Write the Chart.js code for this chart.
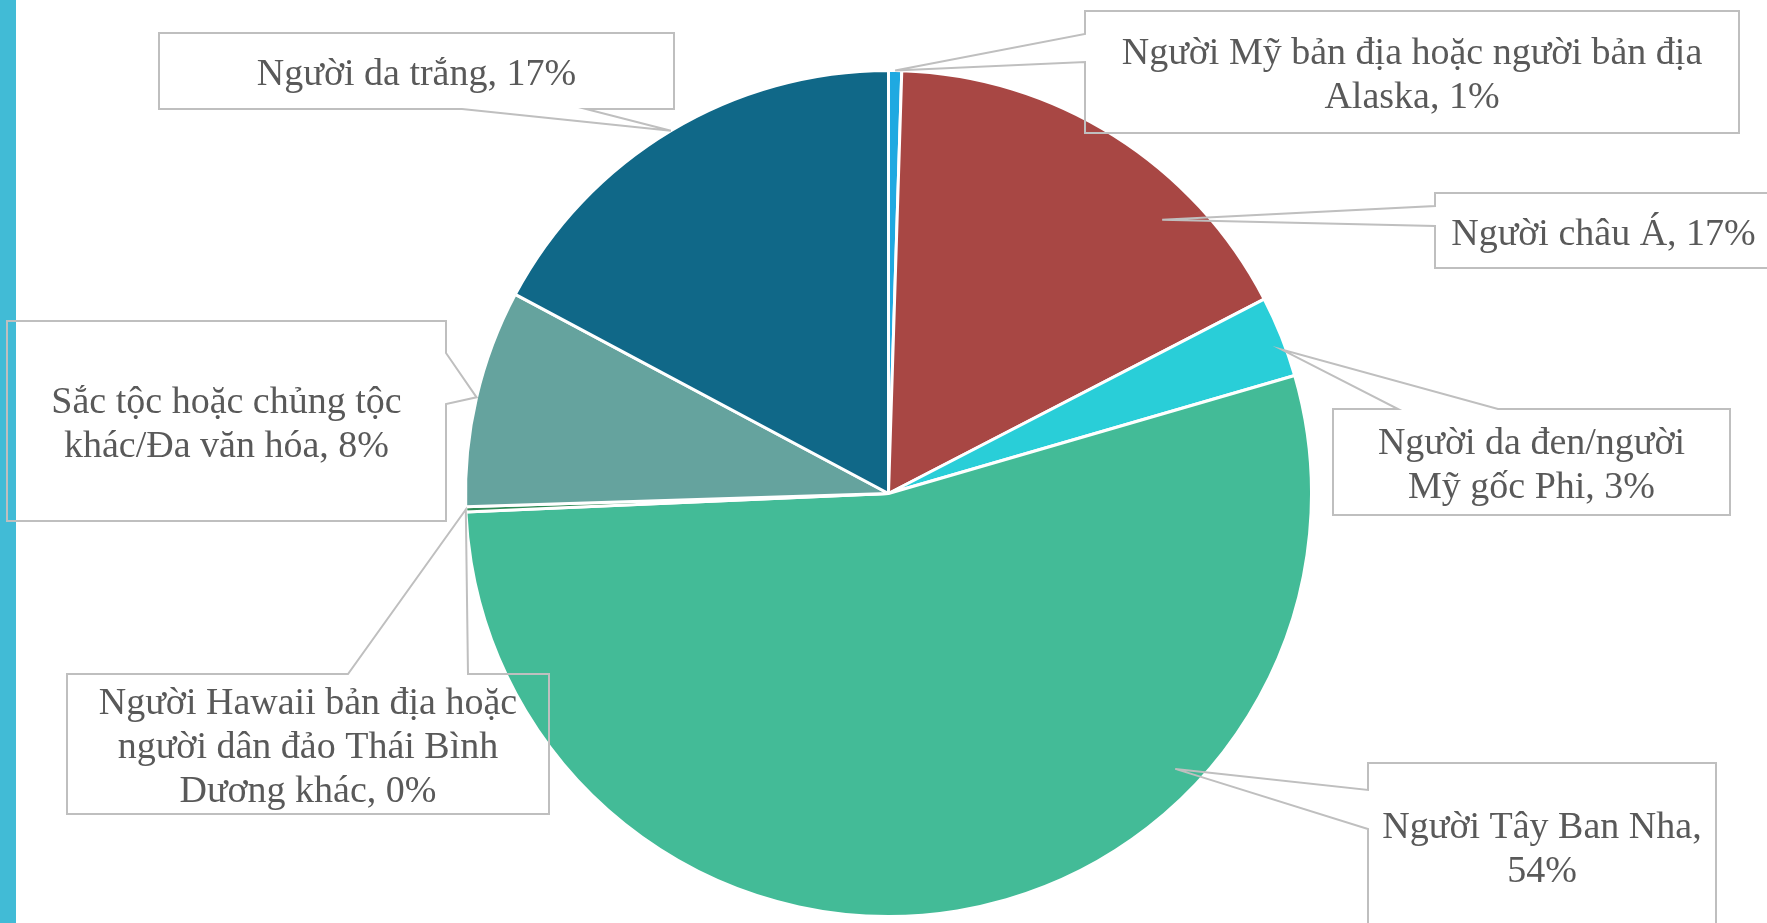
<!DOCTYPE html>
<html>
<head>
<meta charset="utf-8">
<script src="https://cdn.jsdelivr.net/npm/chart.js"></script>
<style>
	body { margin: 0; background: #fff; }
	#wrap { position: relative; width: 1767px; height: 923px; overflow: hidden; }
	#bar { position: absolute; left: 0; top: 0; width: 16px; height: 923px; background: #41bbd6; }
	#myChart { position: absolute; left: 0; top: 0; }
</style>
</head>
<body>
<div id="wrap">
	<div id="bar"></div>
	<canvas id="myChart" width="1767" height="923"></canvas>
</div>
<script>
const categories = [
	"Người Mỹ bản địa hoặc người bản địa Alaska",
	"Người châu Á",
	"Người da đen/người Mỹ gốc Phi",
	"Người Tây Ban Nha",
	"Người Hawaii bản địa hoặc người dân đảo Thái Bình Dương khác",
	"Sắc tộc hoặc chủng tộc khác/Đa văn hóa",
	"Người da trắng"
]
const values = [0.5, 16.9, 3.1, 53.8, 0.2, 8.3, 17.2]
const colors = ["#1fa9e1", "#a84744", "#29ced8", "#43bb97", "#2f8a55", "#65a39e", "#106888"]

// callout boxes (x1, y1, x2, y2), side the pointer leaves from, pointer base,
// and where on the slice the pointer ends (t = share of the slice angle, k = share of radius)
const callouts = [
	{ box: [1085, 11, 1739, 133], side: "left", base: [34, 62], t: 0.5, k: 1.0, wrap: 620 },
	{ box: [1435, 193, 1772, 268], side: "left", base: [206, 226], t: 0.71, k: 0.915, wrap: 330 },
	{ box: [1333, 409, 1730, 515], side: "top", base: [1398, 1498], t: 0.65, k: 0.99, wrap: 350 },
	{ box: [1368, 763, 1716, 929], side: "left", base: [790, 829], t: 0.31, k: 0.94, wrap: 330 },
	{ box: [67, 674, 549, 814], side: "top", base: [348, 468], t: 0.5, k: 1.0, wrap: 450 },
	{ box: [7, 321, 446, 521], side: "right", base: [353, 404], t: 0.5, k: 1.0, wrap: 400 },
	{ box: [159, 33, 674, 109], side: "bottom", base: [462, 586], t: 0.5, k: 1.0, wrap: 480 }
]

function wrapText(ctx, text, maxWidth) {
	const words = text.split(" ")
	let lines = []
	let line = ""
	for (const w of words) {
		const test = line ? line + " " + w : w
		if (line && ctx.measureText(test).width > maxWidth) {
			lines.push(line)
			line = w
		} else {
			line = test
		}
	}
	if (line) lines.push(line)
	return lines
}

const calloutPlugin = {
	id: "callouts",
	afterDraw(chart) {
		const ctx = chart.ctx
		const arcs = chart.getDatasetMeta(0).data
		ctx.save()
		ctx.font = "38px 'Liberation Serif'"
		ctx.strokeStyle = "#bfbfbf"
		ctx.lineWidth = 2
		ctx.lineJoin = "miter"
		callouts.forEach((c, i) => {
			const arc = arcs[i]
			const p = arc.getProps(["x", "y", "startAngle", "endAngle", "outerRadius"], true)
			const a = p.startAngle + c.t * (p.endAngle - p.startAngle)
			const r = p.outerRadius * c.k
			const tx = p.x + Math.cos(a) * r
			const ty = p.y + Math.sin(a) * r
			const [x1, y1, x2, y2] = c.box
			const [b1, b2] = c.base

			ctx.beginPath()
			if (c.side === "left") {
				ctx.moveTo(x1, y1); ctx.lineTo(x2, y1); ctx.lineTo(x2, y2); ctx.lineTo(x1, y2)
				ctx.lineTo(x1, b2); ctx.lineTo(tx, ty); ctx.lineTo(x1, b1)
			} else if (c.side === "right") {
				ctx.moveTo(x1, y1); ctx.lineTo(x2, y1); ctx.lineTo(x2, b1); ctx.lineTo(tx, ty)
				ctx.lineTo(x2, b2); ctx.lineTo(x2, y2); ctx.lineTo(x1, y2)
			} else if (c.side === "top") {
				ctx.moveTo(x1, y1); ctx.lineTo(b1, y1); ctx.lineTo(tx, ty); ctx.lineTo(b2, y1)
				ctx.lineTo(x2, y1); ctx.lineTo(x2, y2); ctx.lineTo(x1, y2)
			} else {
				ctx.moveTo(x1, y1); ctx.lineTo(x2, y1); ctx.lineTo(x2, y2); ctx.lineTo(b2, y2)
				ctx.lineTo(tx, ty); ctx.lineTo(b1, y2); ctx.lineTo(x1, y2)
			}
			ctx.closePath()
			ctx.stroke()

			const text = categories[i] + ", " + Math.round(values[i]) + "%"
			const lines = wrapText(ctx, text, c.wrap)
			const lh = 44
			const cx = (x1 + x2) / 2
			const cy = (y1 + y2) / 2
			ctx.fillStyle = "#595959"
			ctx.textAlign = "center"
			ctx.textBaseline = "alphabetic"
			lines.forEach((ln, j) => {
				ctx.fillText(ln, cx, cy - (lines.length - 1) * lh / 2 + j * lh + 14)
			})
		})
		ctx.restore()
	}
}

new Chart("myChart", {
	type: "pie",
	data: {
		labels: categories,
		datasets: [
			{
				data: values,
				backgroundColor: colors,
				borderColor: "#ffffff",
				borderWidth: 3
			}
		]
	},
	options: {
		responsive: false,
		animation: false,
		layout: {
			padding: { left: 464, right: 454, top: 69, bottom: 5 }
		},
		plugins: {
			legend: { display: false },
			tooltip: { enabled: false }
		}
	},
	plugins: [calloutPlugin]
})
</script>
</body>
</html>
